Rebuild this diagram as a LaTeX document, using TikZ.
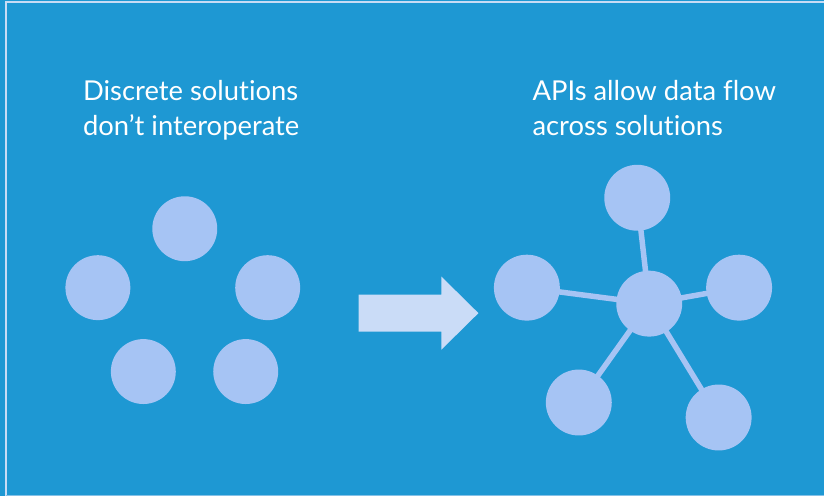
\documentclass[tikz,border=0pt]{standalone}
\usepackage{fontspec}
\setmainfont{Lato}[Ligatures=NoCommon]
\definecolor{panel}{HTML}{1E98D3}
\definecolor{dot}{HTML}{A6C4F4}
\definecolor{arrowfill}{HTML}{CADCF7}
\definecolor{rim}{HTML}{C8DCF5}
\begin{document}
\begin{tikzpicture}[
    x=1pt, y=-1pt,
    sol/.style={circle, fill=dot, minimum size=65pt, inner sep=0pt},
    link/.style={draw=dot, line width=5.5pt},
    caption/.style={anchor=base west, text=white, font=\fontsize{27.4}{35}\selectfont, align=left, inner sep=0pt}
    ]
  \fill[panel] (0,0) rectangle (825,497);
  \draw[rim, line width=2pt] (6.5,497) -- (6.5,2.5) -- (825,2.5);
  \draw[rim!60!panel, line width=1pt] (6.5,496.5) -- (825,496.5);
  % captions (base = last line)
  \node[caption] (leftcap) at (83,136) {Discrete solutions\\don’t interoperate};
  \node[caption] (rightcap) at (533,136) {APIs allow data flow\\across solutions};
  % separate solutions
  \node[sol] (s1) at (185,229) {};
  \node[sol] (s2) at (98,288) {};
  \node[sol] (s3) at (268,288) {};
  \node[sol] (s4) at (143.5,372) {};
  \node[sol] (s5) at (246,372) {};
  % arrow
  \fill[arrowfill] (359,295) -- (442,295) -- (442,277) -- (479,313.5)
    -- (442,350) -- (442,332) -- (359,332) -- cycle;
  % connected solutions
  \node[sol, minimum size=66pt] (hub) at (650,304) {};
  \node[sol, minimum size=66pt] (t1) at (638,198) {};
  \node[sol, minimum size=66pt] (t2) at (527.5,288) {};
  \node[sol, minimum size=66pt] (t3) at (740,288) {};
  \node[sol, minimum size=66pt] (t4) at (579.5,403) {};
  \node[sol, minimum size=66pt] (t5) at (719.5,418) {};
  \foreach \t in {t1,t2,t3,t4,t5}
    \draw[link] (hub.center) -- (\t.center);
\end{tikzpicture}
\end{document}
